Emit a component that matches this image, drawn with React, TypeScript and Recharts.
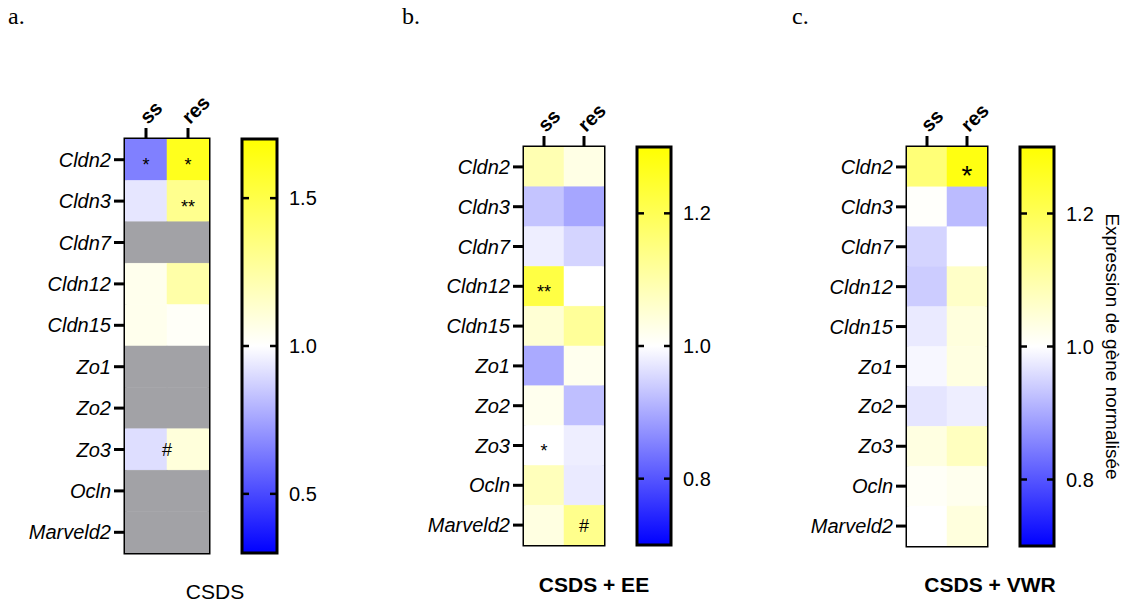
import React from 'react';
import { ScatterChart, Scatter, XAxis, YAxis, ReferenceArea, ReferenceDot, ReferenceLine } from 'recharts';

const FONT = '"Liberation Sans", Arial, sans-serif';

const genes = ['Cldn2', 'Cldn3', 'Cldn7', 'Cldn12', 'Cldn15', 'Zo1', 'Zo2', 'Zo3', 'Ocln', 'Marveld2'];
const groups = ['ss', 'res'];

// null = pas de donnée (case grise)
const csdsSs = [0.65, 0.93, null, 1.05, 1.05, null, null, 0.91, null, null];
const csdsRes = [1.62, 1.31, null, 1.24, 1.02, null, null, 1.1, null, null];
const eeSs = [1.09, 0.93, 0.98, 1.22, 1.05, 0.9, 1.02, 1.0, 1.08, 1.035];
const eeRes = [1.03, 0.895, 0.95, 1.0, 1.12, 1.02, 0.925, 0.98, 0.975, 1.135];
const vwrSs = [1.16, 1.005, 0.95, 0.94, 0.975, 0.99, 0.97, 1.035, 1.01, 1.0];
const vwrRes = [1.28, 0.92, 1.0, 1.065, 1.04, 1.035, 0.98, 1.075, 1.02, 1.04];

// x = colonne (0 ss, 1 res, 0.5 entre les deux), y = ligne du gène
const csdsMarks = [
  { x: 0, y: 0, text: '*' },
  { x: 1, y: 0, text: '*' },
  { x: 1, y: 1, text: '**' },
  { x: 0.5, y: 7, text: '#' },
];
const eeMarks = [
  { x: 0, y: 3, text: '**' },
  { x: 0, y: 7, text: '*' },
  { x: 1, y: 9, text: '#' },
];
const vwrMarks = [{ x: 1, y: 0, text: '*' }];

const csdsTicks = [0.5, 1.0, 1.5];
const smallTicks = [0.8, 1.0, 1.2];

const GRAY = '#a2a2a6';

function cellColor(v: number | null, min: number, max: number) {
  if (v == null) return GRAY;
  if (v >= 1) {
    const t = Math.min(1, (v - 1) / (max - 1));
    const b = Math.round(255 * (1 - t));
    return `rgb(255,255,${b})`;
  }
  const t = Math.min(1, (1 - v) / (1 - min));
  const c = Math.round(255 * (1 - t));
  return `rgb(${c},${c},255)`;
}

type Box = { x: number; y: number; w: number; h: number };

function ColTick(props: any) {
  const { x, y, payload } = props;
  return (
    <g transform={`translate(${x + 2},${y - 1})`}>
      <text transform="rotate(-45)" textAnchor="start" fontWeight="bold" fontSize={20} fontFamily={FONT} fill="#000">
        {groups[payload.value]}
      </text>
    </g>
  );
}

function Heatmap({ box, ss, res, marks, min, max, markSize }: {
  box: Box; ss: (number | null)[]; res: (number | null)[];
  marks: { x: number; y: number; text: string }[]; min: number; max: number; markSize: number;
}) {
  const cw = box.w / 2;
  const ch = box.h / genes.length;
  const cells = genes.flatMap((_, i) => [
    { x: 0, y: i, v: ss[i] },
    { x: 1, y: i, v: res[i] },
  ]);
  const left = 120;
  const top = 60;
  return (
    <div style={{ position: 'absolute', left: box.x - left, top: box.y - top }}>
      <ScatterChart width={box.w + left + 10} height={box.h + top + 10}
        margin={{ top: top - 30, left: left - 110, right: 10, bottom: 10 }}>
        <XAxis type="number" dataKey="x" orientation="top" domain={[-0.5, 1.5]} ticks={[0, 1]} height={30}
          allowDataOverflow axisLine={false} tickSize={11} tickLine={{ stroke: '#000', strokeWidth: 3 }} tick={<ColTick />} />
        <YAxis type="number" dataKey="y" domain={[-0.5, 9.5]} reversed ticks={genes.map((_, i) => i)} width={110}
          allowDataOverflow axisLine={false} tickSize={11} tickMargin={3} interval={0}
          tickLine={{ stroke: '#000', strokeWidth: 3 }}
          tickFormatter={(i: number) => genes[i]}
          tick={{ fill: '#000', fontSize: 20, fontStyle: 'italic', fontFamily: FONT }} />
        <Scatter data={cells} isAnimationActive={false}
          shape={(p: any) => {
            const fill = cellColor(p.payload.v, min, max);
            return <rect x={p.cx - cw / 2} y={p.cy - ch / 2} width={cw} height={ch} fill={fill} stroke={fill} strokeWidth={0.5} />;
          }} />
        <ReferenceArea x1={-0.5} x2={1.5} y1={-0.5} y2={9.5} fill="none" fillOpacity={0} stroke="#000" strokeWidth={3} ifOverflow="visible" />
        {marks.map((m, i) => (
          <ReferenceDot key={i} x={m.x} y={m.y} r={1} ifOverflow="visible"
            shape={(p: any) => {
              const dy = m.text.includes('*') ? markSize * 0.64 : markSize * 0.36;
              return (
                <text x={p.cx} y={p.cy + dy} textAnchor="middle" fontSize={markSize} fontFamily={FONT} fill="#000">
                  {m.text}
                </text>
              );
            }} />
        ))}
      </ScatterChart>
    </div>
  );
}

function ColorBar({ bar, min, max, ticks, title }: { bar: Box; min: number; max: number; ticks: number[]; title?: string }) {
  const axisW = title ? 118 : 60;
  const tl = 7 / bar.w;
  return (
    <div style={{ position: 'absolute', left: bar.x - 10, top: bar.y - 10 }}>
      <ScatterChart width={bar.w + 10 + axisW} height={bar.h + 20} margin={{ top: 10, bottom: 10, left: 10, right: 0 }}>
        <XAxis type="number" dataKey="x" domain={[0, 1]} hide allowDataOverflow />
        <YAxis type="number" dataKey="y" orientation="right" domain={[min, max]} ticks={ticks} width={axisW}
          allowDataOverflow axisLine={false} tickLine={false} tickSize={0} tickMargin={12} interval={0}
          tickFormatter={(v: number) => v.toFixed(1)}
          tick={{ fill: '#000', fontSize: 20, fontFamily: FONT }}
          label={title ? { value: title, angle: 90, position: 'center', fill: '#000', fontSize: 19, fontFamily: FONT } : undefined} />
        <ReferenceArea x1={0} x2={1} y1={min} y2={max} fill="url(#cbar)" fillOpacity={1} stroke="#000" strokeWidth={3} ifOverflow="visible" />
        {ticks.map((t) => (
          <ReferenceLine key={`l${t}`} segment={[{ x: 0, y: t }, { x: tl, y: t }]} stroke="#000" strokeWidth={2.5} ifOverflow="visible" />
        ))}
        {ticks.map((t) => (
          <ReferenceLine key={`r${t}`} segment={[{ x: 1 - tl, y: t }, { x: 1, y: t }]} stroke="#000" strokeWidth={2.5} ifOverflow="visible" />
        ))}
      </ScatterChart>
    </div>
  );
}

export default function App() {
  return (
    <div style={{ position: 'absolute', left: 0, top: 0, width: 1126, height: 604, overflow: 'hidden', background: '#fff' }}>
      <svg width={0} height={0} style={{ position: 'absolute' }}>
        <defs>
          <linearGradient id="cbar" x1="0" y1="0" x2="0" y2="1">
            <stop offset="0" stopColor="#ffff00" />
            <stop offset="0.5" stopColor="#ffffff" />
            <stop offset="1" stopColor="#0000ff" />
          </linearGradient>
        </defs>
      </svg>

      <Heatmap box={{ x: 125, y: 139, w: 84, h: 414 }} ss={csdsSs} res={csdsRes} marks={csdsMarks} min={0.3} max={1.7} markSize={18} />
      <ColorBar bar={{ x: 242, y: 139, w: 35, h: 414 }} min={0.3} max={1.7} ticks={csdsTicks} />

      <Heatmap box={{ x: 524, y: 147, w: 80, h: 398 }} ss={eeSs} res={eeRes} marks={eeMarks} min={0.7} max={1.3} markSize={18} />
      <ColorBar bar={{ x: 637, y: 147, w: 34, h: 398 }} min={0.7} max={1.3} ticks={smallTicks} />

      <Heatmap box={{ x: 907, y: 147, w: 80, h: 399 }} ss={vwrSs} res={vwrRes} marks={vwrMarks} min={0.7} max={1.3} markSize={28} />
      <ColorBar bar={{ x: 1020, y: 147, w: 34, h: 399 }} min={0.7} max={1.3} ticks={smallTicks} title="Expression de gène normalisée" />

      <svg width={1126} height={604} style={{ position: 'absolute', left: 0, top: 0, pointerEvents: 'none' }}>
        <g fontFamily='"Liberation Serif", "Times New Roman", serif' fontSize={24} fill="#000">
          <text x={8} y={24}>a.</text>
          <text x={402} y={24}>b.</text>
          <text x={792} y={24}>c.</text>
        </g>
        <g fontFamily={FONT} fontSize={21} fill="#000" textAnchor="middle">
          <text x={215} y={599}>CSDS</text>
          <text x={594} y={592} fontWeight="bold">CSDS + EE</text>
          <text x={990} y={592} fontWeight="bold">CSDS + VWR</text>
        </g>
      </svg>
    </div>
  );
}
